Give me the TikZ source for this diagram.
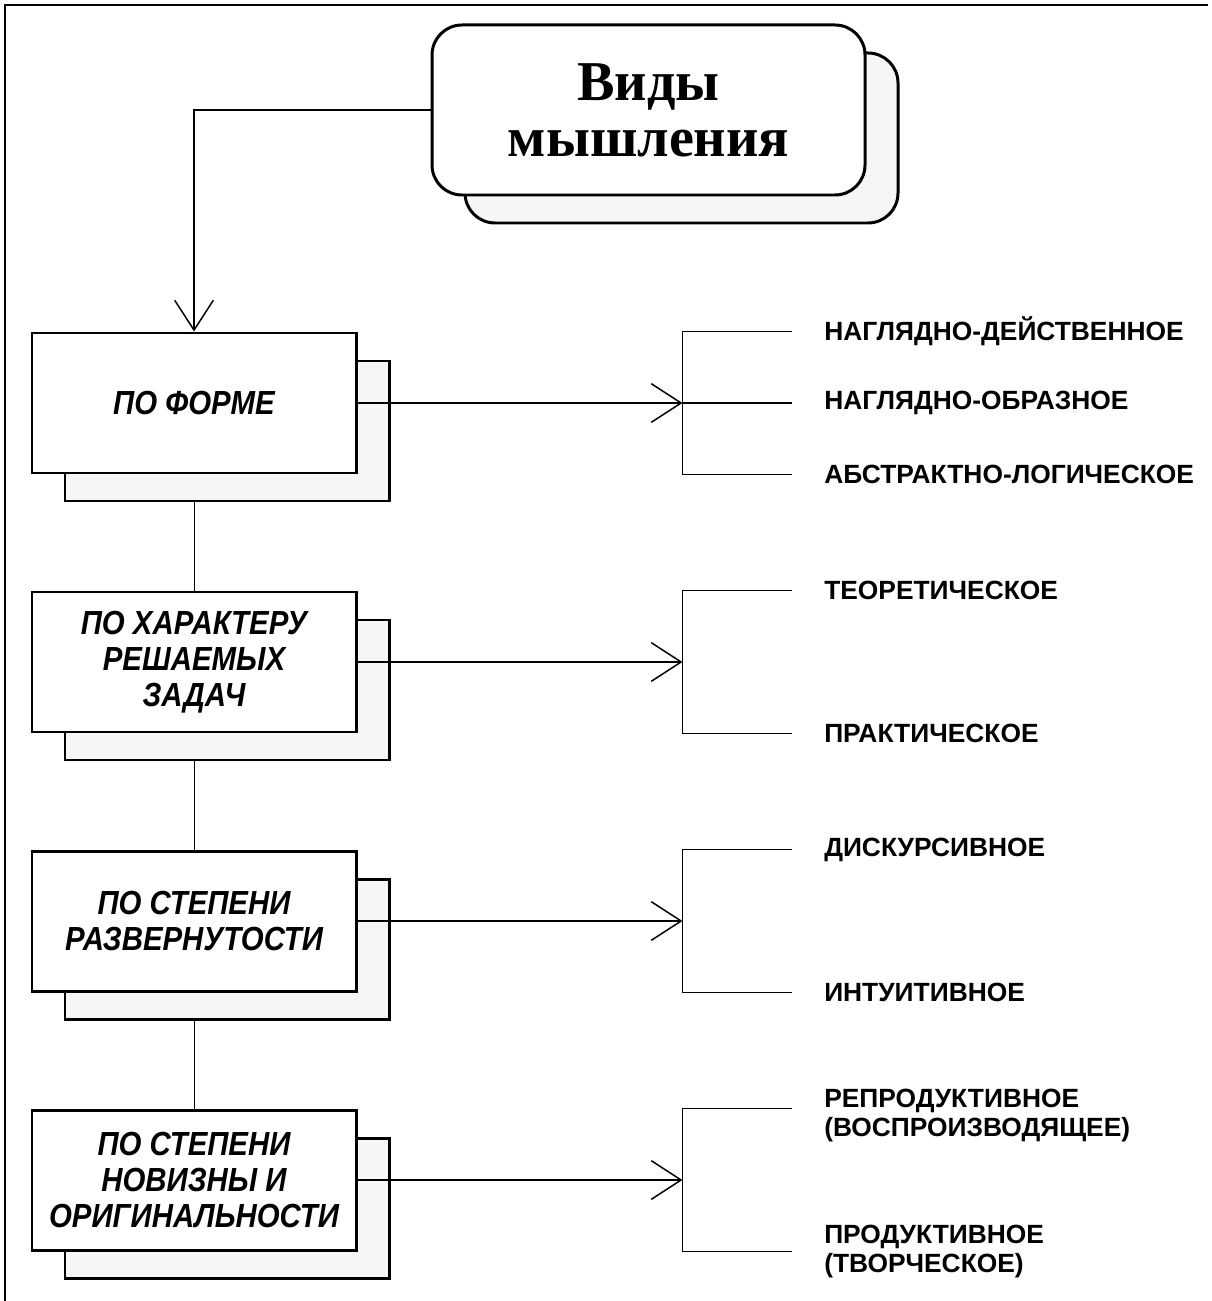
\documentclass[tikz,border=0pt]{standalone}
\usepackage{fontspec}
\usepackage{tikz}
\usetikzlibrary{positioning,shadows,backgrounds,arrows.meta}
\newfontfamily\titlefont{Liberation Serif}
\newfontfamily\boxfont{Liberation Sans}[FakeStretch=0.88]
\newfontfamily\kindfont{Liberation Sans}
\tikzset{%
    kind/.style={%
        anchor=west, inner sep=0pt, align=left,
        font=\kindfont\bfseries\fontsize{15pt}{17pt}\selectfont
    }
}
\begin{document}
\begin{tikzpicture}[>={Straight Barb[length=17pt,width=22pt]},line width=0.85pt,
  node distance=5.18cm,
  main node/.style={draw,line width=1.7pt,fill=white,inner sep=0pt,
    minimum width=6.48cm,minimum height=2.8cm,align=center,
    font=\boxfont\bfseries\itshape\fontsize{19pt}{20.5pt}\selectfont,
    copy shadow={shadow xshift=0.66cm,shadow yshift=-0.56cm,
      fill=gray!7,draw=black,line width=1.7pt}},
  top node/.style={main node,rounded corners=0.6cm,
    minimum width=8.66cm,minimum height=3.4cm,
    font=\titlefont\bfseries\fontsize{32pt}{32pt}\selectfont}]
  \useasboundingbox (0,0) rectangle (24.22,-26.02);
  \draw[line width=1.6pt] (0.1,-26.02) -- (0.1,-0.1) -- (24.16,-0.1);

  \node[top node] (0) at (12.97,-2.2) {Виды\\мышления};
  \node[main node] (1) at (3.88,-8.06) {ПО ФОРМЕ};
  \node[main node] (2) [below of=1] {ПО ХАРАКТЕРУ\\РЕШАЕМЫХ\\ЗАДАЧ};
  \node[main node] (3) [below of=2] {ПО СТЕПЕНИ\\РАЗВЕРНУТОСТИ};
  \node[main node] (4) [below of=3] {ПО СТЕПЕНИ\\НОВИЗНЫ И\\ОРИГИНАЛЬНОСТИ};

  \begin{scope}[on background layer]
    \path (1) edge (2) (2) edge (3) (3) edge (4);
  \end{scope}
  \draw[->] (0) -| (1);

  % brackets
  \foreach \n in {1,...,4}{
    \coordinate (m\n) at ([xshift=6.5cm]\n.east);
    \coordinate (t\n) at ([xshift=2.18cm]m\n |- \n.north);
    \coordinate (b\n) at ([xshift=2.18cm]m\n |- \n.south);
    \draw[->] (\n) -- (m\n);
    \draw (t\n) -- (m\n |- t\n) -- (m\n |- b\n) -- (b\n);
  }
  \coordinate (c1) at ([xshift=2.18cm]m1);
  \draw (m1) -- (c1);

  \node[kind] (k1) [right=0.64cm of t1] {НАГЛЯДНО-ДЕЙСТВЕННОЕ};
  \node[kind] (k2) [right=0.64cm of c1] {НАГЛЯДНО-ОБРАЗНОЕ};
  \node[kind] (k3) [right=0.64cm of b1] {АБСТРАКТНО-ЛОГИЧЕСКОЕ};
  \node[kind] (k4) [right=0.64cm of t2] {ТЕОРЕТИЧЕСКОЕ};
  \node[kind] (k5) [right=0.64cm of b2] {ПРАКТИЧЕСКОЕ};
  \node[kind] (k6) [right=0.64cm of t3] {ДИСКУРСИВНОЕ};
  \node[kind] (k7) [right=0.64cm of b3] {ИНТУИТИВНОЕ};
  \node[kind] (k8) [right=0.64cm of t4,yshift=-0.14cm] {РЕПРОДУКТИВНОЕ\\(ВОСПРОИЗВОДЯЩЕЕ)};
  \node[kind] (k9) [right=0.64cm of b4] {ПРОДУКТИВНОЕ\\(ТВОРЧЕСКОЕ)};
\end{tikzpicture}
\end{document}
